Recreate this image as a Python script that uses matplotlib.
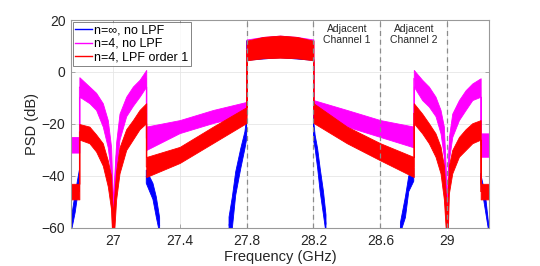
import numpy as np
import matplotlib
matplotlib.use('Agg')
import matplotlib.pyplot as plt
from matplotlib.lines import Line2D

# PSD traces read off the plot as lower / upper envelope of the noisy trace (dB)
# repeated frequencies mark the hard band edges, nan splits a trace

# n=inf, no LPF (only the skirts are visible, rest sits under the other traces)
blue_f = [26.75, 26.775, 26.8, np.nan,
          27.2, 27.24, 27.26, 27.28, np.nan,
          27.695, 27.715, 27.735, 27.765, 27.79, 27.8, 27.8, 28.0, 28.2, 28.2,
          28.21, 28.225, 28.24, 28.26, 28.275, np.nan,
          28.72, 28.75, 28.77, 28.8, np.nan,
          29.2, 29.23, 29.245, 29.25]
blue_lo = [-62, -54, -42.8, np.nan,
           -42.8, -49, -55.8, -62, np.nan,
           -62, -60, -47.4, -37.2, -29.5, -26, 4.5, 5.5, 4.5, -26,
           -29.5, -37, -46, -55, -62, np.nan,
           -62, -56, -46, -42, np.nan,
           -42, -54, -60, -62]
blue_hi = [-57, -46.7, -37.7, np.nan,
           -37.7, -42.8, -48, -56, np.nan,
           -55.8, -48, -38.4, -29.5, -23, -18, 12, 13.5, 12, -18,
           -24.3, -29.5, -37, -46, -55, np.nan,
           -58, -48, -40, -37, np.nan,
           -39, -48, -57, -60]

# n=4, no LPF
mag_f = [26.75, 26.8, 26.8, 26.86, 26.9, 26.94, 26.97, 26.99, 27.0, 27.02, 27.04,
         27.08, 27.12, 27.16, 27.2, 27.2, 27.4, 27.6, 27.8, 27.8, 27.9, 28.0, 28.1,
         28.2, 28.2, 28.4, 28.6, 28.8, 28.8, 28.85, 28.89, 28.93, 28.96, 28.98,
         29.0, 29.01, 29.03, 29.07, 29.11, 29.15, 29.2, 29.2, 29.25]
mag_lo = [-31, -31, -9.5, -12, -14.6, -21, -29, -40, -70, -38, -26,
          -17, -13, -9.5, -5.6, -30, -23.5, -19.6, -16.5, 5, 6, 6.5, 6,
          5, -17.3, -21, -25, -29, -5.6, -10.8, -13.3, -17, -23.6, -32.6,
          -70, -34, -25, -18.5, -14.6, -10.8, -9.5, -32.6, -32.6]
mag_hi = [-25, -25, -2, -5.6, -8, -12, -18.5, -29, -50, -27, -16,
          -9.5, -5.6, -3, 0.8, -21, -18.5, -14.6, -11.5, 12.5, 13.5, 14, 13.5,
          12.5, -10.8, -14.6, -18.5, -21, 0.8, -3, -5.6, -9.5, -14.6, -21,
          -50, -25, -16, -10.8, -7, -4.4, -2.4, -23.6, -23.6]

# n=4, LPF order 1
red_f = [26.75, 26.8, 26.8, 26.86, 26.9, 26.94, 26.97, 26.99, 27.0, 27.02, 27.04,
         27.08, 27.12, 27.16, 27.2, 27.2, 27.4, 27.6, 27.8, 27.8, 27.9, 28.0, 28.1,
         28.2, 28.2, 28.4, 28.6, 28.8, 28.8, 28.85, 28.89, 28.93, 28.96, 28.98,
         29.0, 29.01, 29.03, 29.07, 29.11, 29.15, 29.2, 29.2, 29.25]
red_lo = [-49, -49, -26, -27.4, -30.6, -36, -44, -53, -70, -49, -39,
          -30, -26, -22, -19.7, -40.4, -35, -27.3, -19.6, 4.5, 5.3, 5.5, 5.3,
          4.5, -19.6, -27.4, -34, -40.4, -19.7, -23.6, -27.4, -32.6, -39, -49,
          -70, -46.7, -39, -32.6, -30, -27.4, -26, -49, -49]
red_hi = [-43, -43, -20, -21, -24, -27.4, -34, -40, -55, -38, -29,
          -22, -18.5, -14.6, -12, -32.7, -28.8, -21, -13.5, 12, 13.5, 14, 13.5,
          12, -12, -21, -27.4, -32.7, -12, -16, -19.7, -23.6, -28.7, -36,
          -55, -36, -30, -25, -22, -19.7, -18.5, -43, -43]

traces = [
    (blue_f, blue_lo, blue_hi, '#0000ff', 'n=\u221e, no LPF'),
    (mag_f, mag_lo, mag_hi, '#ff00ff', 'n=4, no LPF'),
    (red_f, red_lo, red_hi, '#ff0000', 'n=4, LPF order 1'),
]

band_edges = [27.8, 28.2, 28.6, 29.0]
x_ticks = [27, 27.4, 27.8, 28.2, 28.6, 29]
x_ticklabels = ['27', '27.4', '27.8', '28.2', '28.6', '29']
y_ticks = [-60, -40, -20, 0, 20]

plt.rcParams['font.family'] = ['Liberation Sans', 'DejaVu Sans']
plt.rcParams['font.size'] = 10

fig = plt.figure(figsize=(5.4, 2.66), dpi=100)
ax = fig.add_axes([0.1315, 0.1429, 0.7741, 0.7819])

ax.grid(True, color='0.9', linewidth=0.6, zorder=0)
ax.set_axisbelow(True)

for f, lo, hi, c, lab in traces:
    f = np.array(f, dtype=float)
    lo = np.array(lo, dtype=float)
    hi = np.array(hi, dtype=float)
    ax.fill_between(f, lo, hi, color=c, linewidth=0.6, edgecolor=c, zorder=2)
    ax.plot(f, (lo + hi) / 2, color=c, linewidth=0.6, zorder=2)

for x in band_edges:
    ax.axvline(x, color='0.55', linestyle=(0, (4, 3)), linewidth=0.9, zorder=3)

ax.text(28.4, 18.3, 'Adjacent\nChannel 1', ha='center', va='top', fontsize=7.5,
        linespacing=1.05, color='0.15', zorder=4)
ax.text(28.8, 18.3, 'Adjacent\nChannel 2', ha='center', va='top', fontsize=7.5,
        linespacing=1.05, color='0.15', zorder=4)

ax.set_xlim(26.75, 29.25)
ax.set_ylim(-60, 20)
ax.set_xticks(x_ticks)
ax.set_xticklabels(x_ticklabels)
ax.set_yticks(y_ticks)
ax.tick_params(direction='in', length=3, width=0.6, colors='0.6', labelcolor='0.15',
               top=True, right=True, pad=4)
for s in ax.spines.values():
    s.set_color('0.6')
    s.set_linewidth(0.8)

ax.set_xlabel('Frequency (GHz)', fontsize=10.5, color='0.15', labelpad=2)
ax.set_ylabel('PSD (dB)', fontsize=10.5, color='0.15', labelpad=2)

handles = [Line2D([0], [0], color=c, linewidth=1) for _, _, _, c, _ in traces]
labels = [lab for _, _, _, _, lab in traces]
leg = ax.legend(handles, labels, loc='upper left', fontsize=9, frameon=True,
                fancybox=False, borderaxespad=0.15, handlelength=1.3,
                handletextpad=0.2, labelspacing=0.12, borderpad=0.2)
leg.get_frame().set_edgecolor('0.3')
leg.get_frame().set_linewidth(0.6)
leg.set_zorder(5)

fig.savefig('out.png', dpi=100)
